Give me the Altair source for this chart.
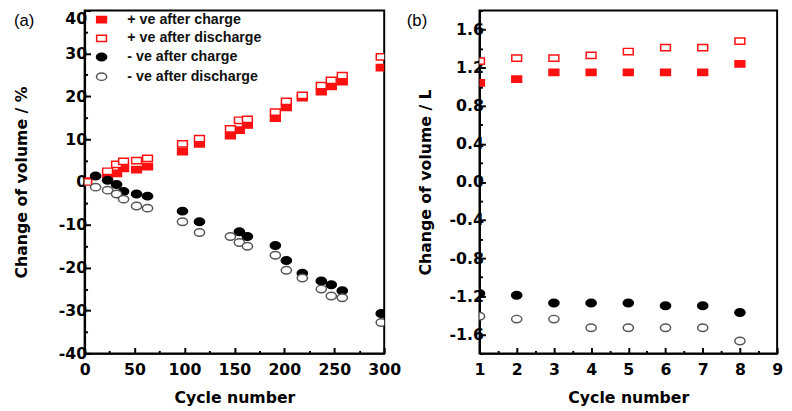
import altair as alt
import pandas as pd

# ---------------- data ----------------
series_names = ["+ ve after charge", "+ ve after discharge",
                "- ve after charge", "- ve after discharge"]

# panel (a): cycles 0-300, % change
cyc_a_pos = [2, 23, 32, 39, 52, 63, 98, 115, 146, 155, 163, 191, 202, 218, 237, 247, 258, 297]
pos_charge_a = [0.2, 1.8, 2.0, 3.2, 2.9, 3.6, 7.1, 8.9, 10.8, 12.1, 13.3, 14.9, 17.4, 19.7, 21.1, 22.3, 23.4, 26.7]
pos_discharge_a = [0.0, 2.5, 4.1, 4.8, 5.0, 5.5, 8.9, 10.1, 12.4, 14.4, 14.6, 16.3, 18.8, 20.2, 22.5, 23.7, 24.8, 29.2]

cyc_a_negc = [11, 23, 32, 39, 52, 63, 98, 115, 155, 163, 191, 202, 218, 237, 247, 258, 297]
neg_charge_a = [1.4, 0.4, -0.6, -2.2, -2.8, -3.3, -6.8, -9.3, -11.6, -12.7, -14.8, -18.3, -21.3, -23.1, -24.0, -25.4, -30.7]
cyc_a_negd = [11, 23, 32, 39, 52, 63, 98, 115, 146, 155, 163, 191, 202, 218, 237, 247, 258, 297]
neg_discharge_a = [-1.2, -1.9, -2.8, -4.0, -5.6, -6.1, -9.3, -11.8, -12.7, -14.1, -15.0, -17.1, -20.6, -22.4, -25.0, -26.6, -27.0, -32.8]

# panel (b): cycles 1-8, L change
cyc_b = [1, 2, 3, 4, 5, 6, 7, 8]
pos_charge_b = [1.04, 1.08, 1.15, 1.15, 1.15, 1.15, 1.15, 1.24]
pos_discharge_b = [1.27, 1.30, 1.30, 1.33, 1.37, 1.41, 1.41, 1.48]
neg_charge_b = [-1.17, -1.19, -1.27, -1.27, -1.27, -1.30, -1.30, -1.37]
neg_discharge_b = [-1.41, -1.44, -1.44, -1.53, -1.53, -1.53, -1.53, -1.67]

# ---------------- tables ----------------
def long(parts):
    rows = []
    for name, xs, ys in parts:
        for x, y in zip(xs, ys):
            rows.append({"series": name, "cycle": x, "value": y})
    return pd.DataFrame(rows)

df_a = long([(series_names[0], cyc_a_pos, pos_charge_a),
             (series_names[1], cyc_a_pos, pos_discharge_a),
             (series_names[2], cyc_a_negc, neg_charge_a),
             (series_names[3], cyc_a_negd, neg_discharge_a)])
df_b = long([(series_names[0], cyc_b, pos_charge_b),
             (series_names[1], cyc_b, pos_discharge_b),
             (series_names[2], cyc_b, neg_charge_b),
             (series_names[3], cyc_b, neg_discharge_b)])

RECT = "M-1.25,-0.8H1.25V0.8H-1.25Z"
ELLI = "M-1.3,0A1.3,0.95 0 1,0 1.3,0A1.3,0.95 0 1,0 -1.3,0Z"
RED = "#ff1010"

def enc(show_legend, xaxis, yaxis, xdom, ydom):
    leg = alt.Legend(title=None, orient="none", legendX=10, legendY=2,
                     symbolSize=64, symbolStrokeWidth=1.5, labelFont="Liberation Sans",
                     labelFontSize=14.5, labelFontWeight="bold", labelColor="#111111", labelOffset=19,
                     rowPadding=4, padding=0) if show_legend else None
    return dict(
        x=alt.X("cycle:Q", scale=alt.Scale(domain=xdom, nice=False, zero=False), axis=xaxis),
        y=alt.Y("value:Q", scale=alt.Scale(domain=ydom, nice=False, zero=False), axis=yaxis),
        shape=alt.Shape("series:N", scale=alt.Scale(domain=series_names, range=[RECT, RECT, ELLI, ELLI]), legend=leg),
        fill=alt.Fill("series:N", scale=alt.Scale(domain=series_names, range=[RED, "white", "black", "white"]), legend=leg),
        stroke=alt.Stroke("series:N", scale=alt.Scale(domain=series_names, range=[RED, RED, "black", "#555555"]), legend=leg),
    )

MINUS = "replace({}, '\u2212', '-')"

def ticks(test):
    return {"condition": {"test": test, "value": -6}, "value": -3}

xa = alt.Axis(values=list(range(0, 301, 25)), title="Cycle number",
              labelExpr="datum.value % 50 == 0 ? " + MINUS.format("format(datum.value, 'd')") + " : ''",
              tickSize=ticks("datum.value % 50 == 0"),
              labelFlush=False, labelPadding=15, titlePadding=12)
ya = alt.Axis(values=list(range(-40, 41, 5)), title="Change of volume / %",
              labelExpr="datum.value % 10 == 0 ? " + MINUS.format("format(datum.value, 'd')") + " : ''",
              tickSize=ticks("datum.value % 10 == 0"),
              labelBaseline={"condition": {"test": "datum.value == 40", "value": "top"}, "value": "middle"},
              labelPadding=4, titlePadding=29)

xb = alt.Axis(values=[1 + 0.5 * i for i in range(17)], title="Cycle number",
              labelExpr="datum.value % 1 == 0 ? format(datum.value, 'd') : ''",
              tickSize=ticks("datum.value % 1 == 0"),
              labelFlush=False, labelPadding=15, titlePadding=12)
yb = alt.Axis(values=[round(-1.8 + 0.2 * i, 1) for i in range(19)], title="Change of volume / L",
              labelExpr="abs(round(datum.value * 10)) % 4 == 0 ? " + MINUS.format("format(datum.value, '.1f')") + " : ''",
              tickSize=ticks("abs(round(datum.value * 10)) % 4 == 0"),
              labelPadding=2, titlePadding=16)

pts_a = alt.Chart(df_a).mark_point(filled=False, size=64, strokeWidth=1.5, opacity=1, clip=True).encode(
    **enc(True, xa, ya, [0, 300], [-40, 40]))
lab_a = alt.Chart(pd.DataFrame({"t": ["(a)"]})).mark_text(
    font="Liberation Sans", fontSize=17, align="left", baseline="middle", color="black"
).encode(x=alt.value(-72), y=alt.value(11), text="t:N")

pts_b = alt.Chart(df_b).mark_point(filled=False, size=64, strokeWidth=1.5, opacity=1, clip=True).encode(
    **enc(False, xb, yb, [1, 9], [-1.8, 1.8]))
lab_b = alt.Chart(pd.DataFrame({"t": ["(b)"]})).mark_text(
    font="Liberation Sans", fontSize=17, align="left", baseline="middle", color="black"
).encode(x=alt.value(-74), y=alt.value(11), text="t:N")

panel_a = alt.layer(pts_a, lab_a).properties(width=305, height=349)
panel_b = alt.layer(pts_b, lab_b).properties(width=303, height=349)

chart = alt.hconcat(panel_a, panel_b, spacing=97, bounds="flush").properties(
    padding={"left": 5, "top": -3, "right": 0, "bottom": 0}, background="white"
).configure_view(stroke="black", strokeWidth=2).configure_axis(
    grid=False, domainColor="black", domainWidth=2, tickColor="black", tickWidth=2,
    tickSize={"expr": "-5"},
    labelFont="DejaVu Sans", labelFontWeight="bold", labelFontSize=16, labelColor="black",
    titleFont="DejaVu Sans", titleFontWeight="bold", titleFontSize=16, titleColor="black",
)

chart.save("out.html", embed_options={"renderer": "svg", "actions": False})
